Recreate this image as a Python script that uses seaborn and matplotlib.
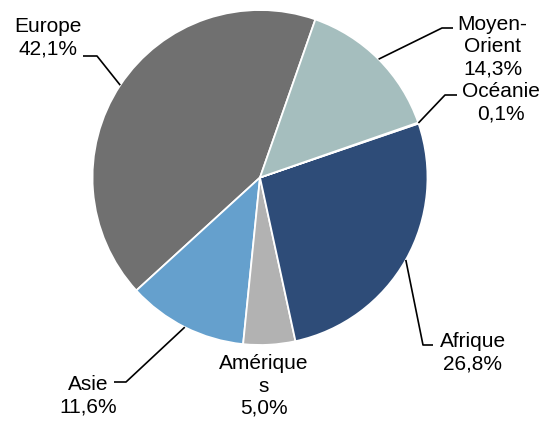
import numpy as np
import matplotlib
matplotlib.use("Agg")
import matplotlib.pyplot as plt
import seaborn as sns

# data (counter-clockwise from the top boundary)
regions = ["Europe", "Asie", "Amériques", "Afrique", "Océanie", "Moyen-Orient"]
shares = [42.1, 11.6, 5.0, 26.8, 0.1, 14.3]
label_texts = ["Europe\n42,1%", "Asie\n11,6%", "Amérique\ns\n5,0%",
               "Afrique\n26,8%", "Océanie\n0,1%", "Moyen-\nOrient\n14,3%"]
colors = ["#707070", "#65A0CD", "#B2B2B2", "#2E4C78", "#DDE6E6", "#A5BEBE"]

sns.set_style("white")
plt.rcParams["font.family"] = ["Liberation Sans", "DejaVu Sans"]

W, H = 548, 421
cx, cy, R = 260, 177.5, 167.5   # pie centre / radius in pixels


def px(x, y):
    # pixel position -> data coords (radius 1 pie)
    return (x - cx) / R, (cy - y) / R


fig = plt.figure(figsize=(W / 100, H / 100), dpi=100)
ax = fig.add_axes([0, 0, 1, 1])
pal = sns.color_palette(colors)
wedges, _ = ax.pie(shares, colors=pal, startangle=70.7, counterclock=True,
                   radius=1, wedgeprops=dict(edgecolor="white", linewidth=1.3))

x0, _ = px(0, 0)
x1, _ = px(W, 0)
_, y0 = px(0, H)
_, y1 = px(0, 0)
ax.set_xlim(x0, x1)
ax.set_ylim(y0, y1)
ax.set_aspect("auto")
ax.axis("off")

# label layout: text centre, leader elbow, leader end (pixels)
layout = {
    "Europe": ((47.5, 38), (97, 56), (83, 56)),
    "Asie": ((88, 396), (126, 382), (114, 382)),
    "Amériques": ((264, 386), None, None),
    "Afrique": ((473, 353), (423, 345), (433, 345)),
    "Océanie": ((501, 103), (445, 95), (457, 95)),
    "Moyen-Orient": ((492.5, 47), (442, 28), (453, 28)),
}

for w, name, txt in zip(wedges, regions, label_texts):
    (tx, ty), elbow, end = layout[name]
    ax.text(*px(tx, ty), txt, ha="center", va="center", fontsize=15,
            color="black", multialignment="center", linespacing=1.22)
    if elbow is not None:
        mid = np.deg2rad((w.theta1 + w.theta2) / 2)
        ex, ey = np.cos(mid), np.sin(mid)
        bx, by = px(*elbow)
        fx, fy = px(*end)
        ax.plot([ex, bx, fx], [ey, by, fy], color="black", lw=1.2,
                solid_capstyle="butt")

fig.savefig("out.png", dpi=100)
